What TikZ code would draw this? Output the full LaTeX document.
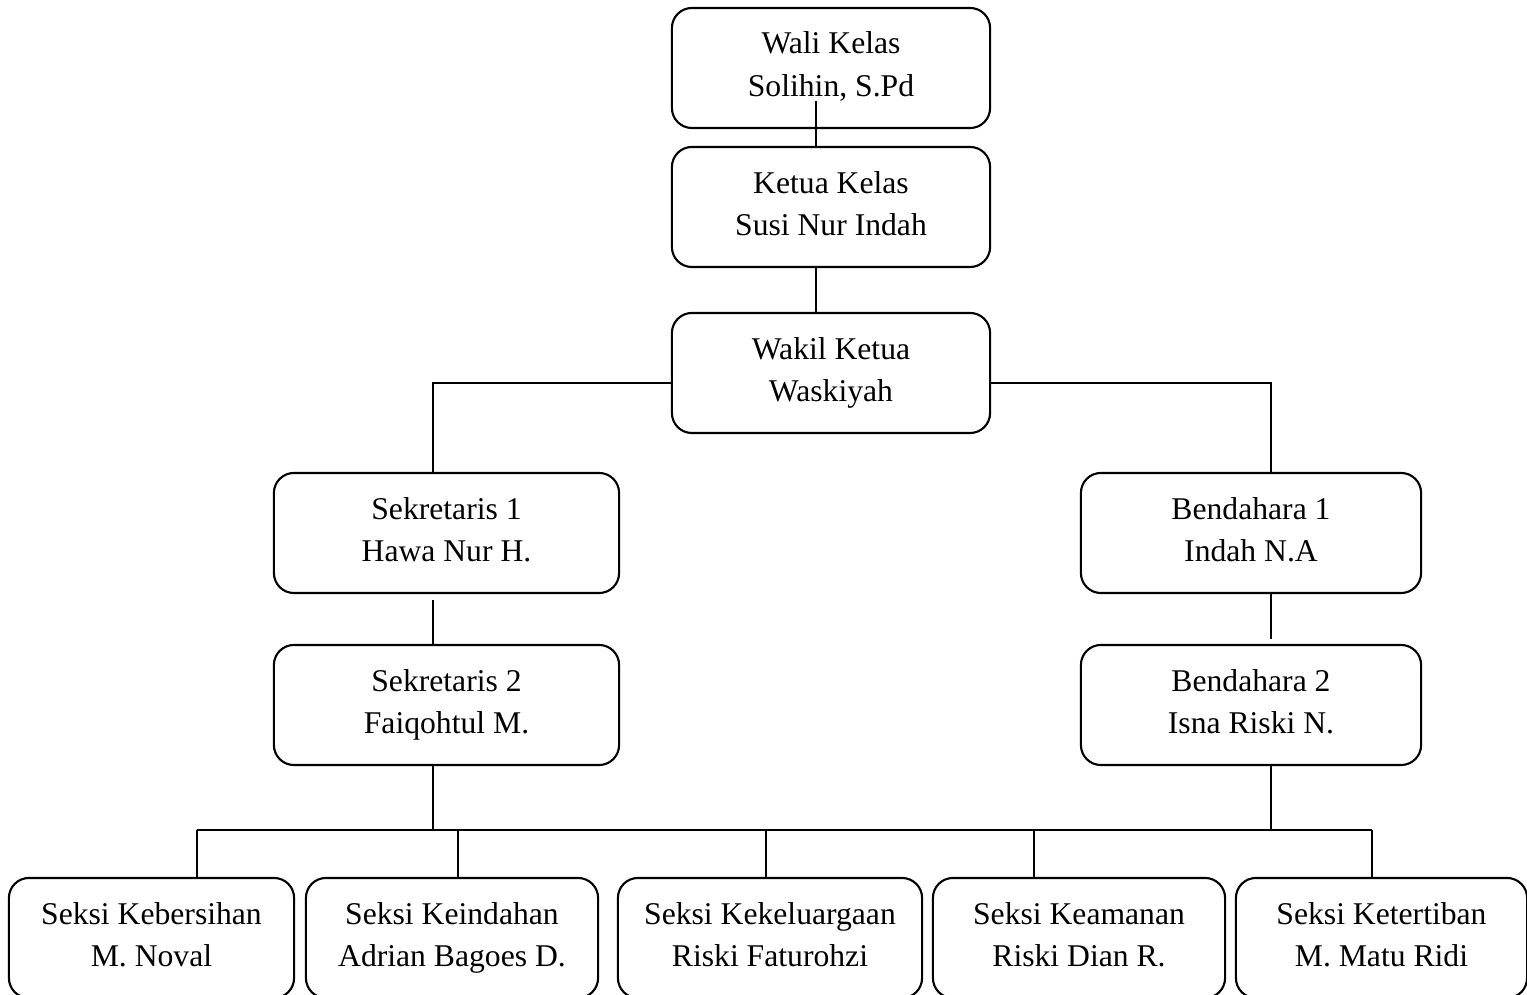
\documentclass[tikz,border=0pt]{standalone}
\usepackage{fontspec}
\setmainfont{Liberation Serif}

\begin{document}
\begin{tikzpicture}[x=0.01cm, y=-0.01cm, line width=0.6pt,
        jabatan/.style = {draw, rounded corners=0.2cm, align=center, inner sep=0pt,
            minimum height=1.2cm, font=\fontsize{9}{12.2}\selectfont,
            execute at begin node=\strut, execute at end node=\strut, text depth=2pt}]
                \clip (0,0) rectangle (1527,995);
                \begin{scope}[every node/.append style = {jabatan, minimum width = 3.18cm}]
                    \node (wali) at (831,68) {Wali Kelas\\Solihin, S.Pd};
                    \node (ketua) at (831,207) {Ketua Kelas\\Susi Nur Indah};
                    \node (wakil) at (831,373) {Wakil Ketua\\Waskiyah};
                \end{scope}
                \begin{scope}[every node/.append style = {jabatan}]
                    \node[minimum width = 3.45cm] (sek1) at (446.5,533) {Sekretaris 1\\Hawa Nur H.};
                    \node[minimum width = 3.45cm] (sek2) at (446.5,705) {Sekretaris 2\\Faiqohtul M.};
                    \node[minimum width = 3.40cm] (ben1) at (1251,533) {Bendahara 1\\Indah N.A};
                    \node[minimum width = 3.40cm] (ben2) at (1251,705) {Bendahara 2\\Isna Riski N.};
                \end{scope}
                \begin{scope}[every node/.append style = {jabatan}]
                    \node[minimum width = 2.85cm] (s1) at (151.5,938) {Seksi Kebersihan\\M. Noval};
                    \node[minimum width = 2.92cm] (s2) at (452,938) {Seksi Keindahan\\Adrian Bagoes D.};
                    \node[minimum width = 3.04cm] (s3) at (770,938) {Seksi Kekeluargaan\\Riski Faturohzi};
                    \node[minimum width = 2.92cm] (s4) at (1079,938) {Seksi Keamanan\\Riski Dian R.};
                    \node[minimum width = 2.91cm] (s5) at (1381.5,938) {Seksi Ketertiban\\M. Matu Ridi};
                \end{scope}
                \draw ([xshift=-0.15cm, yshift=0.28cm]wali.south) -- ([xshift=-0.15cm]ketua.north);
                \draw ([xshift=-0.15cm]ketua.south) -- ([xshift=-0.15cm]wakil.north);
                \draw ([yshift=-0.1cm]wakil.west) -| ([xshift=-0.135cm]sek1.north);
                \draw ([yshift=-0.1cm]wakil.east) -| ([xshift=0.2cm]ben1.north);
                \draw ([xshift=-0.135cm, yshift=-0.06cm]sek1.south) -- ([xshift=-0.135cm]sek2.north);
                \draw ([xshift=0.2cm]ben1.south) -- ([xshift=0.2cm, yshift=0.05cm]ben2.north);
                \coordinate (barL) at (197,830);
                \coordinate (barR) at (1372,830);
                \draw (barL) -- (barR);
                \draw ([xshift=-0.135cm]sek2.south) |- (barL);
                \draw ([xshift=0.2cm]ben2.south) |- (barR);
                \foreach \n/\x in {s1/197, s2/458, s3/766, s4/1034, s5/1372} {
                    \coordinate (d\n) at (\x,830);
                    \draw (d\n) -- (d\n |- \n.north);
                }
            \end{tikzpicture}
\end{document}
